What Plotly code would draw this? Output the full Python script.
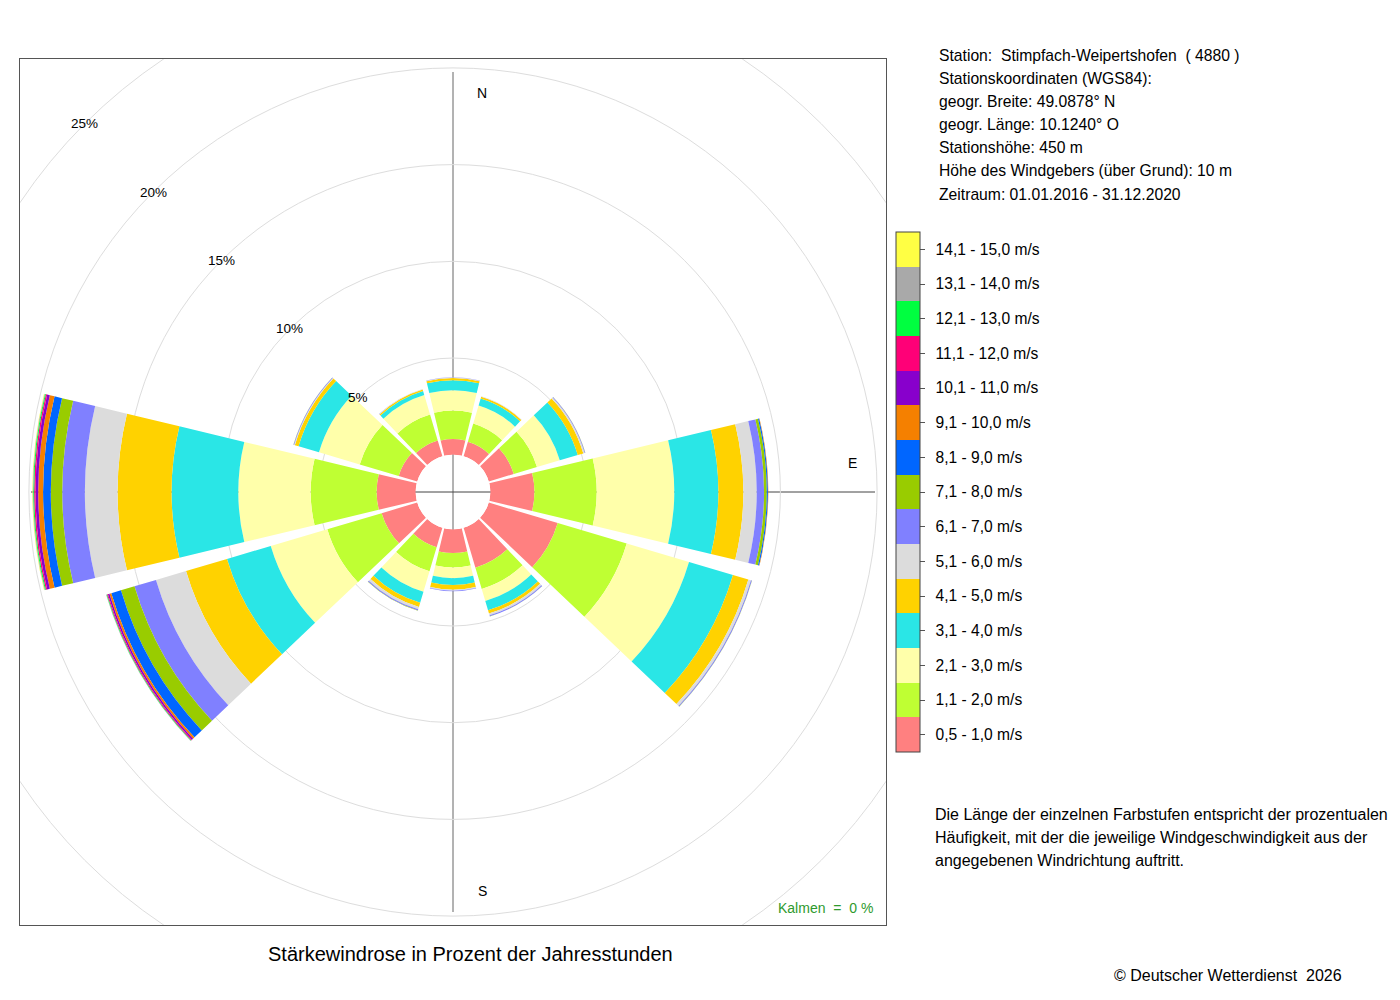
import plotly.graph_objects as go

# wind directions (degrees, clockwise from north)
directions = [0, 30, 60, 90, 120, 150, 180, 210, 240, 270, 300, 330]

speed_labels = ['0,5 - 1,0 m/s', '1,1 - 2,0 m/s', '2,1 - 3,0 m/s', '3,1 - 4,0 m/s',
                '4,1 - 5,0 m/s', '5,1 - 6,0 m/s', '6,1 - 7,0 m/s', '7,1 - 8,0 m/s',
                '8,1 - 9,0 m/s', '9,1 - 10,0 m/s', '10,1 - 11,0 m/s', '11,1 - 12,0 m/s',
                '12,1 - 13,0 m/s', '13,1 - 14,0 m/s', '14,1 - 15,0 m/s']
speed_colors = ['#FF8080', '#BFFF33', '#FFFFAA', '#2AE6E6', '#FFD200', '#DCDCDC',
                '#8080FF', '#99CC00', '#0066FF', '#F58000', '#8800CC', '#FF0077',
                '#00FF40', '#A9A9A9', '#FFFF44']

# percent of hours per speed class, order: N NNE ENE E ESE SSE S SSW WSW W WNW NNW
f_00_10 = [0.81, 0.78, 1.35, 2.28, 3.72, 2.15, 1.23, 1.05, 1.92, 2.02, 1.00, 0.85]
f_11_20 = [1.47, 0.98, 1.25, 3.22, 3.72, 1.15, 0.75, 1.30, 2.93, 3.41, 2.10, 1.40]
f_21_30 = [1.05, 0.97, 1.23, 4.01, 3.36, 0.65, 0.55, 1.10, 3.05, 3.74, 2.20, 1.05]
f_31_40 = [0.52, 0.38, 0.97, 2.28, 2.37, 0.50, 0.35, 0.60, 2.36, 3.45, 1.10, 0.22]
f_41_50 = [0.11, 0.10, 0.30, 1.29, 0.83, 0.17, 0.24, 0.22, 2.21, 2.79, 0.20, 0.08]
f_51_60 = [0.03, 0.02, 0.07, 0.69, 0.14, 0.10, 0.06, 0.13, 1.62, 1.69, 0.04, 0.02]
f_61_70 = [0.01, 0.00, 0.03, 0.38, 0.05, 0.05, 0.02, 0.06, 1.16, 1.17, 0.03, 0.01]
f_71_80 = [0.00, 0.00, 0.01, 0.14, 0.01, 0.01, 0.00, 0.01, 0.73, 0.59, 0.01, 0.00]
f_81_90 = [0.00, 0.00, 0.00, 0.06, 0.00, 0.00, 0.00, 0.00, 0.52, 0.40, 0.00, 0.00]
f_91_100 = [0.00, 0.00, 0.00, 0.02, 0.00, 0.00, 0.00, 0.00, 0.10, 0.25, 0.00, 0.00]
f_101_110 = [0.00, 0.00, 0.00, 0.00, 0.00, 0.00, 0.00, 0.00, 0.08, 0.14, 0.00, 0.00]
f_111_120 = [0.00, 0.00, 0.00, 0.00, 0.00, 0.00, 0.00, 0.00, 0.05, 0.07, 0.00, 0.00]
f_121_130 = [0.00, 0.00, 0.00, 0.00, 0.00, 0.00, 0.00, 0.00, 0.03, 0.05, 0.00, 0.00]
f_131_140 = [0.00, 0.00, 0.00, 0.00, 0.00, 0.00, 0.00, 0.00, 0.02, 0.03, 0.00, 0.00]
f_141_150 = [0.00, 0.00, 0.00, 0.00, 0.00, 0.00, 0.00, 0.00, 0.00, 0.02, 0.00, 0.00]

freq_by_class = [f_00_10, f_11_20, f_21_30, f_31_40, f_41_50, f_51_60, f_61_70, f_71_80,
                 f_81_90, f_91_100, f_101_110, f_111_120, f_121_130, f_131_140, f_141_150]

ring_values = [5, 10, 15, 20]
outer_rings = [25, 30]

station_info = ['Station:  Stimpfach-Weipertshofen  ( 4880 )',
                'Stationskoordinaten (WGS84):',
                'geogr. Breite: 49.0878° N',
                'geogr. Länge: 10.1240° O',
                'Stationshöhe: 450 m',
                'Höhe des Windgebers (über Grund): 10 m',
                'Zeitraum: 01.01.2016 - 31.12.2020']
note_lines = ['Die Länge der einzelnen Farbstufen entspricht der prozentualen',
              'Häufigkeit, mit der die jeweilige Windgeschwindigkeit aus der',
              'angegebenen Windrichtung auftritt.']

# page geometry (pixels); the page body adds an 8px margin around the figure
PAGE_PAD = 8
W, H = 1400 - PAGE_PAD, 1000 - PAGE_PAD
L, T, SIZE = 20, 59, 866      # plot square on the page
HALF = SIZE / 2
HOLE_PX = 37.3        # radius of the empty centre
PX_PER_PCT = 19.34    # pixels per percent
FONT = 'Liberation Sans, Arial, Helvetica, sans-serif'


def nb(s):
    # keep double spaces
    return s.replace('  ', '\u00a0\u00a0')


def paper_x(px):
    return (px - L) / SIZE


def paper_y(py):
    return (T + SIZE - py) / SIZE


fig = go.Figure()

# discrete colour key drawn as a colorbar
scale = []
n = len(speed_colors)
for i, c in enumerate(speed_colors):
    scale.append([i / n, c])
    scale.append([(i + 1) / n, c])

fig.add_trace(go.Scatter(
    x=[None], y=[None], mode='markers', hoverinfo='skip',
    marker=dict(color=[0], colorscale=scale, cmin=0, cmax=n, showscale=True,
                colorbar=dict(
                    x=paper_x(896), xanchor='left', xpad=0,
                    y=paper_y(752), yanchor='bottom', ypad=0,
                    len=520 / SIZE, lenmode='fraction', thickness=24,
                    outlinewidth=1, outlinecolor='#444',
                    tickvals=[i + 0.5 for i in range(n)],
                    ticktext=['\u00a0\u2009' + s for s in speed_labels],
                    ticks='outside', ticklen=5, tickcolor='#555',
                    tickfont=dict(size=15.6, family=FONT, color='black'),
                )),
))

for cls, label, color in zip(freq_by_class, speed_labels, speed_colors):
    fig.add_trace(go.Barpolar(
        r=cls, theta=directions, width=27, name=label,
        marker=dict(color=color, line=dict(width=0)),
        hovertemplate='%{theta}°: %{r:.2f} %<extra>' + label + '</extra>',
    ))

r_max = (HALF - HOLE_PX) / PX_PER_PCT

shapes = []
# N-S and W-E lines through the centre
shapes.append(dict(type='line', xref='x', yref='y', x0=0, x1=0, y0=-420, y1=420,
                   line=dict(color='#666', width=1), layer='below'))
shapes.append(dict(type='line', xref='x', yref='y', x0=-422, x1=422, y0=0, y1=0,
                   line=dict(color='#444', width=1), layer='below'))
for p in outer_rings:
    rr = HOLE_PX + p * PX_PER_PCT
    shapes.append(dict(type='circle', xref='x', yref='y', x0=-rr, x1=rr, y0=-rr, y1=rr,
                       line=dict(color='#DDDDDD', width=1), layer='below'))

annotations = []
# ring labels along the north-west diagonal
for p in ring_values + outer_rings[:1]:
    rr = HOLE_PX + p * PX_PER_PCT
    annotations.append(dict(x=-rr * 0.7071, y=rr * 0.7071, xref='x', yref='y', text=f'{p}%',
                            showarrow=False, font=dict(size=13.5)))
for txt, x, y in [('N', 29, 399), ('E', 399, 29), ('S', 29, -399)]:
    annotations.append(dict(x=x, y=y, xref='x', yref='y', text=txt, showarrow=False,
                            font=dict(size=14)))

annotations.append(dict(x=paper_x(875), y=paper_y(908), xref='paper', yref='paper',
                        xanchor='right', yanchor='middle', showarrow=False,
                        text=nb('Kalmen  =  0 %'), font=dict(size=14, color='#2E9A2E')))

for i, line in enumerate(station_info):
    annotations.append(dict(x=paper_x(937), y=paper_y(55 + i * 23.2), xref='paper', yref='paper',
                            xanchor='left', yanchor='middle', showarrow=False,
                            text=nb(line), font=dict(size=15.7)))
for i, line in enumerate(note_lines):
    annotations.append(dict(x=paper_x(933), y=paper_y(814 + i * 23), xref='paper', yref='paper',
                            xanchor='left', yanchor='middle', showarrow=False,
                            text=line, font=dict(size=16)))

annotations.append(dict(x=paper_x(470), y=paper_y(954), xref='paper', yref='paper',
                        xanchor='center', yanchor='middle', showarrow=False,
                        text='Stärkewindrose in Prozent der Jahresstunden', font=dict(size=20)))
annotations.append(dict(x=paper_x(1344), y=paper_y(976), xref='paper', yref='paper',
                        xanchor='right', yanchor='middle', showarrow=False,
                        text=nb('© Deutscher Wetterdienst  2026'), font=dict(size=16)))

fig.update_layout(
    width=W, height=H,
    margin=dict(l=L - PAGE_PAD, r=W - (L - PAGE_PAD) - SIZE, t=T - PAGE_PAD,
                b=H - (T - PAGE_PAD) - SIZE, pad=0),
    paper_bgcolor='white', plot_bgcolor='white',
    font=dict(family=FONT, size=15, color='black'),
    showlegend=False,
    xaxis=dict(domain=[0, 1], range=[-HALF, HALF], showgrid=False, zeroline=False,
               showticklabels=False, ticks='', showline=True, mirror=True,
               linecolor='#555', linewidth=1, fixedrange=True),
    yaxis=dict(domain=[0, 1], range=[-HALF, HALF], showgrid=False, zeroline=False,
               showticklabels=False, ticks='', showline=True, mirror=True,
               linecolor='#555', linewidth=1, fixedrange=True),
    polar=dict(
        domain=dict(x=[0, 1], y=[0, 1]),
        bgcolor='rgba(0,0,0,0)',
        hole=HOLE_PX / HALF,
        barmode='stack',
        radialaxis=dict(range=[0, r_max], tickvals=ring_values, showticklabels=False,
                        showline=False, ticks='', gridcolor='#DDDDDD', gridwidth=1),
        angularaxis=dict(rotation=90, direction='clockwise', showgrid=False,
                         showline=False, showticklabels=False, ticks=''),
    ),
    shapes=shapes,
    annotations=annotations,
)

fig.write_html('out.html')
